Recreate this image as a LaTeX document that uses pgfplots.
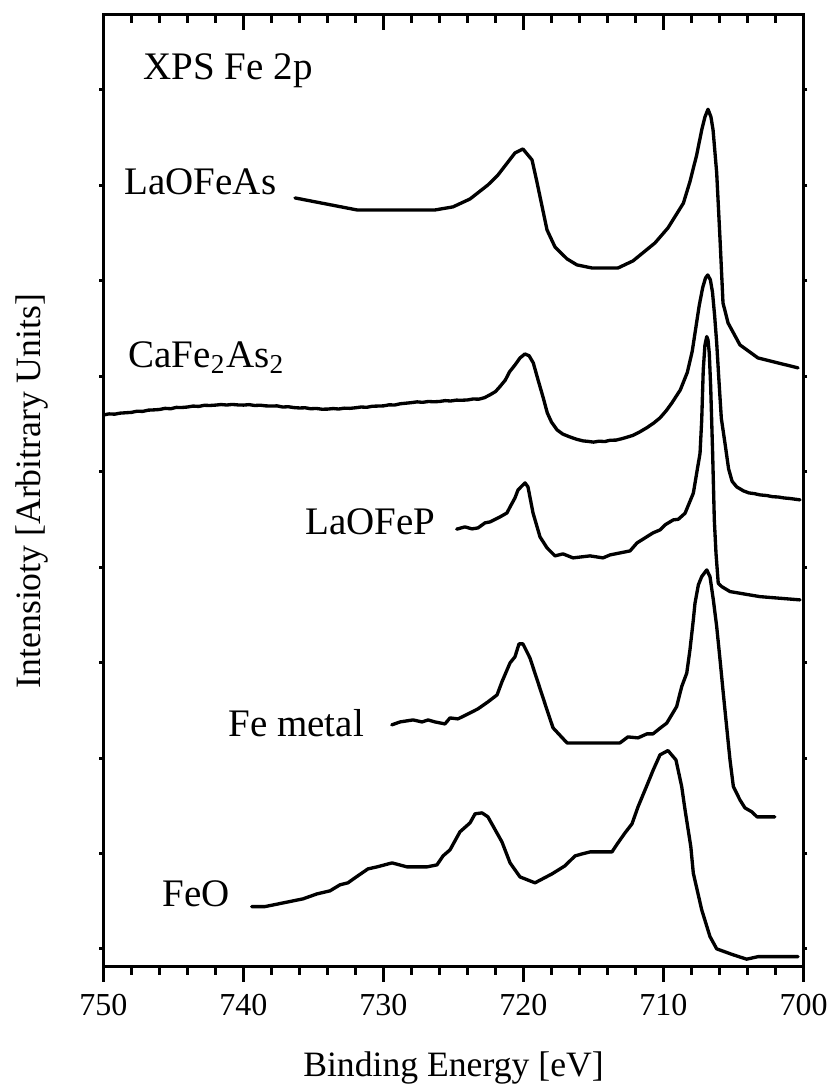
\documentclass[border=0pt]{standalone}
\usepackage{fontspec}
\setmainfont{Liberation Serif}
\usepackage{pgfplots}
\pgfplotsset{compat=1.18}
\begin{document}
\begin{tikzpicture}
\useasboundingbox (0,0) rectangle (249.9pt,326.4pt);
\pgfplotsset{
  frame/.style={scale only axis, width=210pt,
    axis line style={line width=0.9pt, black},
    tick style={line width=0.9pt, black}},
  base/.style={frame, height=285.6pt, at={(31.05pt,36.3pt)}, anchor=south west,
    xmin=700, xmax=750, x dir=reverse, ymin=-0.19, ymax=9.786},
  curve/.style={black, line width=1pt, line join=round, line cap=round, mark=none}
}
% top ticks (inward); the frame of this axis runs down past the page
\begin{axis}[frame, height=385.6pt, at={(31.05pt,321.9pt)}, anchor=north west,
  xmin=700, xmax=750, x dir=reverse, ymin=0, ymax=1,
  xtick={700,710,...,750}, minor xtick={702,704,...,748},
  xticklabels={}, ytick=\empty, tick align=inside,
  major tick length=4.4pt, minor tick length=2.4pt]
\end{axis}
% blank the bottom margin (covers the run-on frame of the axis above)
\fill[white] (-1pt,-1pt) rectangle (251pt,35.85pt);
% bottom ticks (outward) with labels; the frame of this axis runs up past the page
\begin{axis}[frame, height=385.6pt, at={(31.05pt,36.3pt)}, anchor=south west,
  xmin=700, xmax=750, x dir=reverse, ymin=0, ymax=1,
  xtick={700,710,...,750}, minor xtick={702,704,...,748},
  ytick=\empty, tick align=outside,
  major tick length=4.5pt, minor tick length=2.4pt,
  xticklabel pos=lower,
  tick label style={font=\fontsize{9.6}{11}\selectfont},
  /pgf/number format/assume math mode=true,
  /pgf/number format/1000 sep={},
]
\end{axis}
% blank the top margin (covers the run-on frame of the axis above)
\fill[white] (-1pt,322.4pt) rectangle (251pt,327.4pt);
% box, small y ticks, labels and data
\begin{axis}[base,
  xtick=\empty, ytick={0,...,9}, yticklabels={}, ytick pos=both,
  tick align=outside, major tick length=1.2pt,
  xlabel={Binding Energy [eV]},
  xlabel style={at={(axis description cs:0.5,-0.1155)}, anchor=base, font=\fontsize{10.7}{13}\selectfont},
  ylabel={Intensioty [Arbitrary Units]},
  ylabel style={at={(axis description cs:-0.0907,0.5)}, anchor=base, font=\fontsize{10.7}{13}\selectfont},
]
% LaOFeAs
\addplot[curve] coordinates {
(736.32,7.869) (731.89,7.743) (726.32,7.743) (725.04,7.775) (723.82,7.858)
(722.54,8.005) (721.82,8.110) (720.61,8.340) (720.04,8.382) (719.39,8.267)
(719.04,8.036) (718.32,7.534) (717.75,7.355) (716.89,7.230) (716.18,7.167)
(715.11,7.135) (713.25,7.135) (712.18,7.209) (710.61,7.397) (709.68,7.555)
(708.58,7.814) (708.11,8.040) (707.63,8.319) (707.27,8.581) (707.04,8.718)
(706.82,8.798) (706.61,8.718) (706.46,8.581) (706.20,8.131) (705.96,7.429)
(705.75,6.769) (705.39,6.559) (704.54,6.329) (703.25,6.192) (700.39,6.088)
};
% CaFe2As2
\addplot[curve] coordinates {
(750.0,5.595) (749.6,5.606) (749.2,5.603) (748.8,5.614) (748.4,5.618)
(748.0,5.622) (747.6,5.634) (747.2,5.632) (746.8,5.645) (746.4,5.648)
(746.0,5.652) (745.6,5.664) (745.2,5.660) (744.8,5.674) (744.4,5.673)
(744.0,5.678) (743.6,5.688) (743.2,5.684) (742.8,5.696) (742.4,5.694)
(742.0,5.698) (741.6,5.704) (741.2,5.699) (740.8,5.705) (740.4,5.700)
(740.0,5.698) (739.6,5.703) (739.2,5.694) (738.8,5.697) (738.4,5.690)
(738.0,5.688) (737.6,5.690) (737.2,5.678) (736.8,5.681) (736.4,5.672)
(736.0,5.668) (735.6,5.670) (735.2,5.660) (734.8,5.663) (734.4,5.655)
(734.0,5.656) (733.6,5.662) (733.2,5.657) (732.8,5.666) (732.4,5.664)
(732.0,5.670) (731.6,5.678) (731.2,5.675) (730.8,5.686) (730.4,5.688)
(730.0,5.690) (729.6,5.701) (729.2,5.699) (728.8,5.712) (728.4,5.718)
(728.0,5.724) (727.6,5.732) (727.2,5.727) (726.8,5.736) (726.4,5.733)
(726.0,5.736) (725.6,5.745) (725.2,5.741) (724.8,5.750) (724.4,5.749)
(724.0,5.752) (723.6,5.762) (723.2,5.760) (722.8,5.775) (722.4,5.805)
(722.0,5.840) (721.7,5.889) (721.3,5.960) (721.0,6.046) (720.6,6.120)
(720.25,6.192) (719.9,6.234) (719.6,6.215) (719.3,6.140) (718.96,5.962)
(718.6,5.780) (718.3,5.616) (718.0,5.520) (717.6,5.438) (717.2,5.395)
(716.7,5.365) (716.2,5.340) (715.75,5.323) (715.4,5.318) (715.0,5.310)
(714.6,5.320) (714.2,5.316) (713.8,5.330) (713.4,5.331) (713.0,5.345)
(712.6,5.362) (712.2,5.380) (711.7,5.417) (711.2,5.460) (710.7,5.510)
(710.25,5.564) (709.8,5.640) (709.4,5.721) (708.8,5.857) (708.3,6.040)
(707.95,6.260) (707.7,6.500) (707.45,6.740) (707.2,6.930) (707.0,7.030)
(706.84,7.062) (706.65,7.010) (706.5,6.880) (706.35,6.640) (706.2,6.350)
(706.05,5.980) (705.87,5.560) (705.61,5.300) (705.35,5.030) (705.1,4.900)
(704.77,4.841) (704.3,4.800) (703.9,4.778) (703.5,4.770) (703.1,4.757)
(702.6,4.750) (702.2,4.738) (701.8,4.735) (701.4,4.725) (701.0,4.720)
(700.6,4.712) (700.25,4.705)
};
% LaOFeP
\addplot[curve] coordinates {
(724.77,4.398) (724.18,4.422) (723.68,4.401) (723.25,4.411) (722.75,4.464)
(722.39,4.474) (721.68,4.526) (721.18,4.568) (720.96,4.631) (720.61,4.725)
(720.39,4.809) (720.18,4.841) (719.89,4.883) (719.68,4.841) (719.32,4.568)
(718.82,4.317) (718.32,4.202) (717.75,4.118) (717.18,4.139) (716.46,4.097)
(715.25,4.118) (714.32,4.097) (713.82,4.128) (713.11,4.149) (712.39,4.170)
(711.89,4.254) (710.75,4.359) (710.25,4.390) (709.89,4.443) (709.30,4.495)
(708.94,4.502) (708.46,4.565) (707.87,4.775) (707.63,4.984) (707.39,5.194)
(707.27,5.543) (707.16,6.067) (707.04,6.328) (706.91,6.416) (706.82,6.381)
(706.73,6.242) (706.63,5.892) (706.49,5.194) (706.37,4.495) (706.25,4.146)
(706.09,3.832) (705.84,3.796) (705.25,3.744) (703.11,3.691) (700.25,3.657)
};
% Fe metal
\addplot[curve] coordinates {
(729.41,2.347) (728.82,2.378) (727.89,2.399) (727.25,2.378) (726.82,2.399)
(726.32,2.378) (725.61,2.357) (725.25,2.420) (724.68,2.410) (723.96,2.462)
(723.25,2.515) (722.54,2.588) (721.89,2.661) (721.54,2.798) (720.96,2.997)
(720.61,3.060) (720.32,3.196) (720.04,3.196) (719.54,3.049) (718.32,2.504)
(717.89,2.316) (716.89,2.158) (713.11,2.158) (712.54,2.221) (711.82,2.211)
(711.18,2.253) (710.75,2.253) (710.25,2.312) (709.77,2.365) (709.06,2.539)
(708.70,2.748) (708.34,2.889) (708.11,3.133) (707.87,3.447) (707.75,3.622)
(707.51,3.814) (707.27,3.901) (706.91,3.971) (706.68,3.901) (706.44,3.657)
(706.20,3.377) (705.96,3.028) (705.73,2.679) (705.49,2.329) (705.25,1.980)
(705.01,1.701) (704.54,1.561) (704.18,1.477) (703.68,1.435) (703.32,1.383)
(702.04,1.383)
};
% FeO
\addplot[curve] coordinates {
(739.41,0.443) (738.46,0.443) (735.75,0.524) (734.75,0.576) (733.82,0.608)
(733.11,0.671) (732.54,0.692) (732.04,0.744) (731.11,0.838) (730.46,0.859)
(729.39,0.901) (728.32,0.859) (726.89,0.859) (726.18,0.880) (725.75,0.974)
(725.25,1.037) (724.54,1.226) (723.82,1.320) (723.46,1.415) (722.96,1.425)
(722.54,1.383) (721.54,1.121) (720.96,0.901) (720.25,0.754) (719.18,0.692)
(717.96,0.786) (717.04,0.870) (716.32,0.974) (715.82,0.995) (715.25,1.016)
(713.68,1.016) (713.25,1.111) (712.75,1.215) (712.25,1.310) (711.82,1.488)
(711.11,1.739) (710.73,1.876) (710.25,2.033) (709.68,2.078) (709.11,1.980)
(708.70,1.701) (708.46,1.456) (708.05,1.072) (707.87,0.793) (707.27,0.409)
(706.68,0.129) (706.20,0.000) (705.01,-0.063) (704.06,-0.108) (703.23,-0.081)
(700.39,-0.081)
};
\begin{scope}[every node/.style={font=\fontsize{11.7}{14}\selectfont, anchor=base west, inner sep=0pt}]
\node at (axis cs:747.18,9.105) {XPS Fe 2p};
\node at (axis cs:748.54,7.900) {LaOFeAs};
\node at (axis cs:748.25,6.088) {CaFe\textsubscript{2}As\textsubscript{2}};
\node at (axis cs:735.61,4.338) {LaOFeP};
\node at (axis cs:741.11,2.221) {Fe metal};
\node at (axis cs:745.82,0.440) {FeO};
\end{scope}
\end{axis}
\end{tikzpicture}
\end{document}
